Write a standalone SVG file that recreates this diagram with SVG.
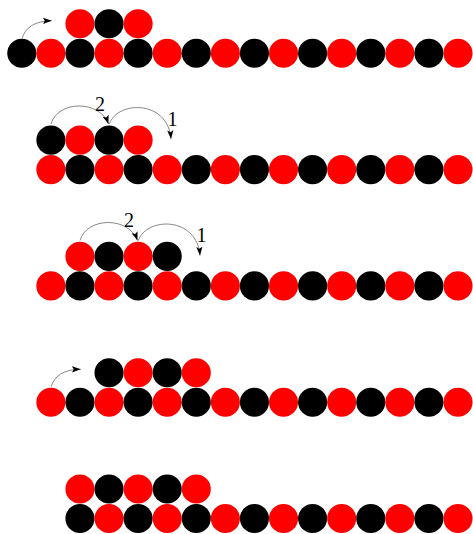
<svg xmlns="http://www.w3.org/2000/svg" width="473" height="534" viewBox="0 0 473 534">
<style>
.r{fill:#ff0000}
.b{fill:#000000}
.c{fill:none;stroke:#555555;stroke-width:0.7}
.t{font-family:"Liberation Serif","DejaVu Serif",serif;font-size:20px;fill:#000;text-anchor:middle}
</style>
<defs>
<marker id="ah" markerUnits="userSpaceOnUse" markerWidth="10" markerHeight="8" refX="7" refY="2.5" orient="auto" viewBox="0 0 8 5">
<path d="M0,0 L7,2.5 L0,5 L1.5,2.5 z" fill="#000"/>
</marker>
<circle id="dot" r="14.55"/>
</defs>
<rect width="473" height="534" fill="#ffffff"/>
<g id="row1">
<g id="r1b0"><use href="#dot" class="b" x="21.8" y="53.3"/></g>
<g id="r1b1"><use href="#dot" class="r" x="50.88" y="53.3"/></g>
<g id="r1b2"><use href="#dot" class="b" x="79.96" y="53.3"/></g>
<g id="r1b3"><use href="#dot" class="r" x="109.04" y="53.3"/></g>
<g id="r1b4"><use href="#dot" class="b" x="138.12" y="53.3"/></g>
<g id="r1b5"><use href="#dot" class="r" x="167.2" y="53.3"/></g>
<g id="r1b6"><use href="#dot" class="b" x="196.28" y="53.3"/></g>
<g id="r1b7"><use href="#dot" class="r" x="225.36" y="53.3"/></g>
<g id="r1b8"><use href="#dot" class="b" x="254.44" y="53.3"/></g>
<g id="r1b9"><use href="#dot" class="r" x="283.52" y="53.3"/></g>
<g id="r1b10"><use href="#dot" class="b" x="312.6" y="53.3"/></g>
<g id="r1b11"><use href="#dot" class="r" x="341.68" y="53.3"/></g>
<g id="r1b12"><use href="#dot" class="b" x="370.76" y="53.3"/></g>
<g id="r1b13"><use href="#dot" class="r" x="399.84" y="53.3"/></g>
<g id="r1b14"><use href="#dot" class="b" x="428.92" y="53.3"/></g>
<g id="r1b15"><use href="#dot" class="r" x="458" y="53.3"/></g>
<g id="r1t2"><use href="#dot" class="r" x="79.96" y="23.8"/></g>
<g id="r1t3"><use href="#dot" class="b" x="109.04" y="23.8"/></g>
<g id="r1t4"><use href="#dot" class="r" x="138.12" y="23.8"/></g>
</g>
<g id="row2">
<g id="r2b1"><use href="#dot" class="r" x="50.88" y="169.6"/></g>
<g id="r2b2"><use href="#dot" class="b" x="79.96" y="169.6"/></g>
<g id="r2b3"><use href="#dot" class="r" x="109.04" y="169.6"/></g>
<g id="r2b4"><use href="#dot" class="b" x="138.12" y="169.6"/></g>
<g id="r2b5"><use href="#dot" class="r" x="167.2" y="169.6"/></g>
<g id="r2b6"><use href="#dot" class="b" x="196.28" y="169.6"/></g>
<g id="r2b7"><use href="#dot" class="r" x="225.36" y="169.6"/></g>
<g id="r2b8"><use href="#dot" class="b" x="254.44" y="169.6"/></g>
<g id="r2b9"><use href="#dot" class="r" x="283.52" y="169.6"/></g>
<g id="r2b10"><use href="#dot" class="b" x="312.6" y="169.6"/></g>
<g id="r2b11"><use href="#dot" class="r" x="341.68" y="169.6"/></g>
<g id="r2b12"><use href="#dot" class="b" x="370.76" y="169.6"/></g>
<g id="r2b13"><use href="#dot" class="r" x="399.84" y="169.6"/></g>
<g id="r2b14"><use href="#dot" class="b" x="428.92" y="169.6"/></g>
<g id="r2b15"><use href="#dot" class="r" x="458" y="169.6"/></g>
<g id="r2t1"><use href="#dot" class="b" x="50.88" y="140.1"/></g>
<g id="r2t2"><use href="#dot" class="r" x="79.96" y="140.1"/></g>
<g id="r2t3"><use href="#dot" class="b" x="109.04" y="140.1"/></g>
<g id="r2t4"><use href="#dot" class="r" x="138.12" y="140.1"/></g>
</g>
<g id="row3">
<g id="r3b1"><use href="#dot" class="r" x="50.88" y="285.9"/></g>
<g id="r3b2"><use href="#dot" class="b" x="79.96" y="285.9"/></g>
<g id="r3b3"><use href="#dot" class="r" x="109.04" y="285.9"/></g>
<g id="r3b4"><use href="#dot" class="b" x="138.12" y="285.9"/></g>
<g id="r3b5"><use href="#dot" class="r" x="167.2" y="285.9"/></g>
<g id="r3b6"><use href="#dot" class="b" x="196.28" y="285.9"/></g>
<g id="r3b7"><use href="#dot" class="r" x="225.36" y="285.9"/></g>
<g id="r3b8"><use href="#dot" class="b" x="254.44" y="285.9"/></g>
<g id="r3b9"><use href="#dot" class="r" x="283.52" y="285.9"/></g>
<g id="r3b10"><use href="#dot" class="b" x="312.6" y="285.9"/></g>
<g id="r3b11"><use href="#dot" class="r" x="341.68" y="285.9"/></g>
<g id="r3b12"><use href="#dot" class="b" x="370.76" y="285.9"/></g>
<g id="r3b13"><use href="#dot" class="r" x="399.84" y="285.9"/></g>
<g id="r3b14"><use href="#dot" class="b" x="428.92" y="285.9"/></g>
<g id="r3b15"><use href="#dot" class="r" x="458" y="285.9"/></g>
<g id="r3t2"><use href="#dot" class="r" x="79.96" y="256.4"/></g>
<g id="r3t3"><use href="#dot" class="b" x="109.04" y="256.4"/></g>
<g id="r3t4"><use href="#dot" class="r" x="138.12" y="256.4"/></g>
<g id="r3t5"><use href="#dot" class="b" x="167.2" y="256.4"/></g>
</g>
<g id="row4">
<g id="r4b1"><use href="#dot" class="r" x="50.88" y="402.2"/></g>
<g id="r4b2"><use href="#dot" class="b" x="79.96" y="402.2"/></g>
<g id="r4b3"><use href="#dot" class="r" x="109.04" y="402.2"/></g>
<g id="r4b4"><use href="#dot" class="b" x="138.12" y="402.2"/></g>
<g id="r4b5"><use href="#dot" class="r" x="167.2" y="402.2"/></g>
<g id="r4b6"><use href="#dot" class="b" x="196.28" y="402.2"/></g>
<g id="r4b7"><use href="#dot" class="r" x="225.36" y="402.2"/></g>
<g id="r4b8"><use href="#dot" class="b" x="254.44" y="402.2"/></g>
<g id="r4b9"><use href="#dot" class="r" x="283.52" y="402.2"/></g>
<g id="r4b10"><use href="#dot" class="b" x="312.6" y="402.2"/></g>
<g id="r4b11"><use href="#dot" class="r" x="341.68" y="402.2"/></g>
<g id="r4b12"><use href="#dot" class="b" x="370.76" y="402.2"/></g>
<g id="r4b13"><use href="#dot" class="r" x="399.84" y="402.2"/></g>
<g id="r4b14"><use href="#dot" class="b" x="428.92" y="402.2"/></g>
<g id="r4b15"><use href="#dot" class="r" x="458" y="402.2"/></g>
<g id="r4t3"><use href="#dot" class="b" x="109.04" y="372.7"/></g>
<g id="r4t4"><use href="#dot" class="r" x="138.12" y="372.7"/></g>
<g id="r4t5"><use href="#dot" class="b" x="167.2" y="372.7"/></g>
<g id="r4t6"><use href="#dot" class="r" x="196.28" y="372.7"/></g>
</g>
<g id="row5">
<g id="r5b2"><use href="#dot" class="b" x="79.96" y="518.5"/></g>
<g id="r5b3"><use href="#dot" class="r" x="109.04" y="518.5"/></g>
<g id="r5b4"><use href="#dot" class="b" x="138.12" y="518.5"/></g>
<g id="r5b5"><use href="#dot" class="r" x="167.2" y="518.5"/></g>
<g id="r5b6"><use href="#dot" class="b" x="196.28" y="518.5"/></g>
<g id="r5b7"><use href="#dot" class="r" x="225.36" y="518.5"/></g>
<g id="r5b8"><use href="#dot" class="b" x="254.44" y="518.5"/></g>
<g id="r5b9"><use href="#dot" class="r" x="283.52" y="518.5"/></g>
<g id="r5b10"><use href="#dot" class="b" x="312.6" y="518.5"/></g>
<g id="r5b11"><use href="#dot" class="r" x="341.68" y="518.5"/></g>
<g id="r5b12"><use href="#dot" class="b" x="370.76" y="518.5"/></g>
<g id="r5b13"><use href="#dot" class="r" x="399.84" y="518.5"/></g>
<g id="r5b14"><use href="#dot" class="b" x="428.92" y="518.5"/></g>
<g id="r5b15"><use href="#dot" class="r" x="458" y="518.5"/></g>
<g id="r5t2"><use href="#dot" class="r" x="79.96" y="489"/></g>
<g id="r5t3"><use href="#dot" class="b" x="109.04" y="489"/></g>
<g id="r5t4"><use href="#dot" class="r" x="138.12" y="489"/></g>
<g id="r5t5"><use href="#dot" class="b" x="167.2" y="489"/></g>
<g id="r5t6"><use href="#dot" class="r" x="196.28" y="489"/></g>
</g>
<g id="connectors">
<path class="c" marker-end="url(#ah)" d="M22.2,38.3 C25,28 34,21 51.7,20.7"/>
<path class="c" marker-end="url(#ah)" d="M51,124 C58,100 100,100 108.5,124"/>
<path class="c" marker-end="url(#ah)" d="M109.3,124 C118,100 168,100 171,139"/>
<path class="c" marker-end="url(#ah)" d="M80,240.5 C87,216.5 129,216.5 137.5,240.5"/>
<path class="c" marker-end="url(#ah)" d="M138.3,240.5 C147,216.5 197,216.5 200,255.5"/>
<path class="c" marker-end="url(#ah)" d="M51.2,386.7 C54,376.5 63,369.5 80.7,369.2"/>
</g>
<g id="labels">
<text class="t" x="100" y="110.5">2</text>
<text class="t" x="172.5" y="125.5">1</text>
<text class="t" x="129" y="227">2</text>
<text class="t" x="201.5" y="242">1</text>
</g>
</svg>
